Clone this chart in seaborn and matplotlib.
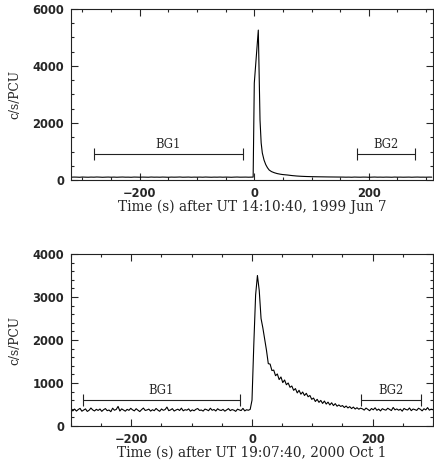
import numpy as np
import pandas as pd
import matplotlib
matplotlib.use("Agg")
import matplotlib.pyplot as plt
import seaborn as sns

# ---- burst 1: 1999 Jun 7 ----
top_t_pre = np.arange(-320, -4, 5)
top_c_pre = [98, 103, 101, 96, 104, 100, 97, 102, 99, 105,
             101, 96, 100, 103, 98, 102, 97, 101, 104, 99,
             100, 96, 103, 101, 98, 102, 100, 97, 104, 99,
             101, 98, 103, 100, 96, 102, 99, 101, 105, 98,
             100, 103, 97, 101, 99, 102, 98, 104, 100, 97,
             101, 99, 103, 98, 102, 100, 96, 101, 104, 99,
             100, 102, 98, 101]
top_t_burst = [-2, 0, 7, 10, 12, 14, 17, 20, 23, 26, 30, 35, 40, 45, 50,
               58, 66, 74, 82, 90, 100, 110, 120, 130, 140, 150]
top_c_burst = [102, 3400, 5260, 2100, 1300, 950, 700, 540, 430, 350, 295,
               255, 225, 205, 190, 175, 155, 140, 130, 123, 117, 113, 110,
               107, 105, 103]
top_t_post = np.arange(155, 315, 5)
top_c_post = [102, 99, 101, 97, 103, 100, 98, 102, 101, 96, 100, 104, 99,
              101, 98, 102, 100, 97, 103, 99, 101, 98, 100, 102, 97, 101,
              103, 99, 100, 98, 102, 100]

# ---- burst 2: 2000 Oct 1 (3 s bins) ----
bot_t = np.arange(-300, 301, 3)
bot_c_pre = [376, 352, 394, 347, 383, 410, 344, 371, 398, 339,
             366, 418, 374, 350, 388, 362, 395, 341, 379, 405,
             356, 372, 333, 414, 367, 385, 455, 349, 398, 372,
             345, 387, 364, 411, 376, 352, 402, 367, 336, 381,
             417, 361, 373, 393, 346, 379, 356, 408, 370, 342,
             396, 365, 382, 440, 357, 374, 403, 348, 372, 391,
             361, 415, 353, 379, 368, 398, 343, 376, 354, 388,
             406, 362, 372, 347, 394, 378, 356, 413, 366, 384,
             349, 401, 372, 361, 387, 345, 376, 404, 357, 382,
             368, 341, 392, 374, 359, 410, 351, 378, 366, 387]
bot_c_burst = [600, 1900, 3050, 3500, 3150, 2500, 2280, 2020, 1760, 1450,
               1440, 1290, 1300, 1170, 1210, 1080, 1140, 1010, 1070, 960,
               1000, 900, 930, 830, 870, 770, 830, 740, 790, 710,
               760, 680, 710, 620, 650, 570, 620, 550, 595, 525,
               580, 510, 555, 490, 540, 475, 520, 460, 490, 455,
               475, 430, 465, 420, 450, 405, 440, 395, 425, 390, 415]
bot_c_post = [399, 370, 417, 385, 356, 407, 377, 423, 365, 393,
              351, 403, 381, 369, 413, 387, 359, 431, 375, 397,
              367, 391, 345, 409, 383, 373, 419, 357, 395, 381,
              363, 413, 389, 353, 401, 375, 427, 369, 391, 379]

# background intervals
bg_names = ["BG1", "BG2"]
bg_start = [-280, 180]
bg_end = [-20, 280]
top_bg_level = 900
bot_bg_level = 600

top_xlabel = "Time (s) after UT 14:10:40, 1999 Jun 7"
bot_xlabel = "Time (s) after UT 19:07:40, 2000 Oct 1"

top = pd.DataFrame({
    "t": np.concatenate([top_t_pre, top_t_burst, top_t_post]),
    "c": np.concatenate([top_c_pre, top_c_burst, top_c_post]),
})
bot = pd.DataFrame({
    "t": bot_t,
    "c": np.concatenate([bot_c_pre, bot_c_burst, bot_c_post]),
})

sns.set_style("ticks")
plt.rcParams["font.family"] = ["DejaVu Sans"]

fig = plt.figure(figsize=(4.35, 4.68), dpi=100)
ax1 = fig.add_axes([71 / 435, 1 - 180 / 468, 362 / 435, 171 / 468])
ax2 = fig.add_axes([71 / 435, 1 - 426 / 468, 362 / 435, 172 / 468])

panels = [
    (ax1, top, (-320, 312), (0, 6000), 2000, 500, top_bg_level, top_xlabel),
    (ax2, bot, (-300, 300), (0, 4000), 1000, 200, bot_bg_level, bot_xlabel),
]

for ax, df, xl, yl, ymaj, ymin, lev, xlab in panels:
    sns.lineplot(data=df, x="t", y="c", ax=ax, color="black", lw=0.8,
                 estimator=None)
    for name, a, b in zip(bg_names, bg_start, bg_end):
        mid = (a + b) / 2
        ax.errorbar(mid, lev, xerr=(b - a) / 2, fmt="none", ecolor="#222222",
                    elinewidth=0.8, capsize=4.3, capthick=0.8)
        ax.annotate(name, (mid, lev), xytext=(0, 2.5),
                    textcoords="offset points", ha="center", va="bottom",
                    family="DejaVu Serif", fontsize=8.3)
    ax.set_xlim(*xl)
    ax.set_ylim(*yl)
    ax.set_xticks([-200, 0, 200])
    ax.set_xticks(np.arange(-300, 301, 50), minor=True)
    ax.set_yticks(np.arange(yl[0], yl[1] + 1, ymaj))
    ax.set_yticks(np.arange(yl[0], yl[1] + 1, ymin), minor=True)
    ax.tick_params(which="both", direction="in", top=True, right=True,
                   width=0.8, labelsize=8.3, pad=5)
    ax.tick_params(which="major", length=5)
    ax.tick_params(which="minor", length=2.5)
    for lab in ax.get_xticklabels() + ax.get_yticklabels():
        lab.set_fontweight("bold")
    for s in ax.spines.values():
        s.set_linewidth(0.8)
        s.set_color("#222222")
    ax.set_xlabel(xlab, family="DejaVu Serif", fontsize=9.8, labelpad=0)
    ax.set_ylabel("c/s/PCU", family="DejaVu Serif", fontsize=8.8, labelpad=8)

fig.savefig("out.png", dpi=100)
